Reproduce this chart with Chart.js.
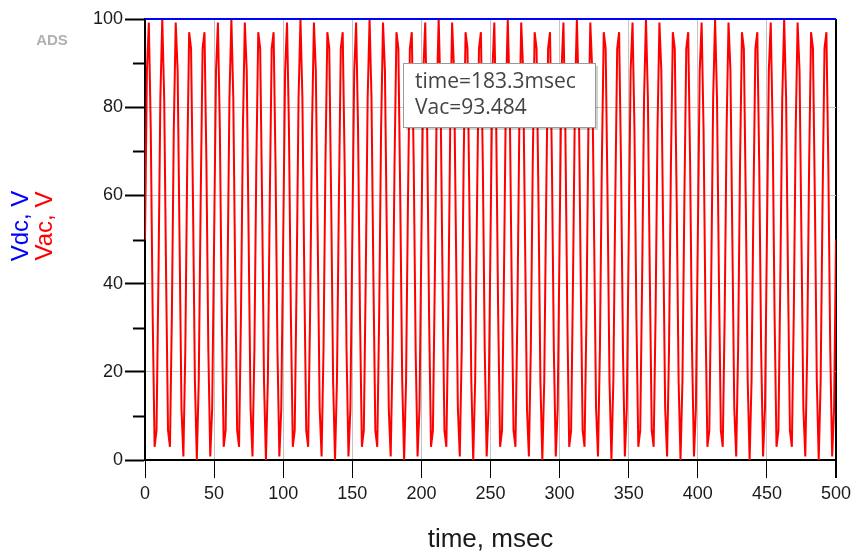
<!DOCTYPE html>
<html>
<head>
<meta charset="utf-8">
<script src="https://cdn.jsdelivr.net/npm/chart.js@4.4.0/dist/chart.umd.min.js"></script>
<style>
  html, body { margin: 0; padding: 0; background: #fff; }
</style>
</head>
<body>
<canvas id="chart" width="857" height="556"></canvas>
<script>
// transient samples, one every tStep msec starting at 0
const tStep = 25 / 18;
const vacValues = [
  50,88.3,99.2,75,32.9,3,6.7,41.3,82.1,100,82.1,41.3,6.7,3,32.9,75,99.2,88.3,50,11.7,0.8,25,67.1,97,93.3,58.7,17.9,0,17.9,58.7,93.3,97,67.1,25,0.8,11.7,
  50,88.3,99.2,75,32.9,3,6.7,41.3,82.1,100,82.1,41.3,6.7,3,32.9,75,99.2,88.3,50,11.7,0.8,25,67.1,97,93.3,58.7,17.9,0,17.9,58.7,93.3,97,67.1,25,0.8,11.7,
  50,88.3,99.2,75,32.9,3,6.7,41.3,82.1,100,82.1,41.3,6.7,3,32.9,75,99.2,88.3,50,11.7,0.8,25,67.1,97,93.3,58.7,17.9,0,17.9,58.7,93.3,97,67.1,25,0.8,11.7,
  50,88.3,99.2,75,32.9,3,6.7,41.3,82.1,100,82.1,41.3,6.7,3,32.9,75,99.2,88.3,50,11.7,0.8,25,67.1,97,93.3,58.7,17.9,0,17.9,58.7,93.3,97,67.1,25,0.8,11.7,
  50,88.3,99.2,75,32.9,3,6.7,41.3,82.1,100,82.1,41.3,6.7,3,32.9,75,99.2,88.3,50,11.7,0.8,25,67.1,97,93.3,58.7,17.9,0,17.9,58.7,93.3,97,67.1,25,0.8,11.7,
  50,88.3,99.2,75,32.9,3,6.7,41.3,82.1,100,82.1,41.3,6.7,3,32.9,75,99.2,88.3,50,11.7,0.8,25,67.1,97,93.3,58.7,17.9,0,17.9,58.7,93.3,97,67.1,25,0.8,11.7,
  50,88.3,99.2,75,32.9,3,6.7,41.3,82.1,100,82.1,41.3,6.7,3,32.9,75,99.2,88.3,50,11.7,0.8,25,67.1,97,93.3,58.7,17.9,0,17.9,58.7,93.3,97,67.1,25,0.8,11.7,
  50,88.3,99.2,75,32.9,3,6.7,41.3,82.1,100,82.1,41.3,6.7,3,32.9,75,99.2,88.3,50,11.7,0.8,25,67.1,97,93.3,58.7,17.9,0,17.9,58.7,93.3,97,67.1,25,0.8,11.7,
  50,88.3,99.2,75,32.9,3,6.7,41.3,82.1,100,82.1,41.3,6.7,3,32.9,75,99.2,88.3,50,11.7,0.8,25,67.1,97,93.3,58.7,17.9,0,17.9,58.7,93.3,97,67.1,25,0.8,11.7,
  50,88.3,99.2,75,32.9,3,6.7,41.3,82.1,100,82.1,41.3,6.7,3,32.9,75,99.2,88.3,50,11.7,0.8,25,67.1,97,93.3,58.7,17.9,0,17.9,58.7,93.3,97,67.1,25,0.8,11.7,
  50
];
const vdcTimes = [0, 500];
const vdcValues = [100, 100];

const xTicks = [0, 50, 100, 150, 200, 250, 300, 350, 400, 450, 500];
const yTicks = [0, 20, 40, 60, 80, 100];
const yMinorTicks = [10, 30, 50, 70, 90];
const markerLines = ['time=183.3msec', 'Vac=93.484'];

const labelFont = { family: 'Arial, "Liberation Sans", sans-serif', size: 18 };

const adsDecor = {
    id: 'adsDecor',
    afterDraw(chart) {
        const ctx = chart.ctx;
        const y = chart.scales.y;
        const area = chart.chartArea;
        ctx.save();

        // minor ticks on the y axis
        ctx.strokeStyle = '#000';
        ctx.lineWidth = 2;
        yMinorTicks.forEach(v => {
            const py = Math.round(y.getPixelForValue(v)) + 0.5;
            ctx.beginPath();
            ctx.moveTo(area.left - 12, py);
            ctx.lineTo(area.left, py);
            ctx.stroke();
        });

        // two-colour y axis title
        ctx.font = '24px Arial, "Liberation Sans", sans-serif';
        ctx.textAlign = 'center';
        ctx.textBaseline = 'middle';
        ctx.translate(0, 226);
        ctx.rotate(-Math.PI / 2);
        ctx.fillStyle = '#0000ff';
        ctx.fillText('Vdc, V', 0, 21);
        ctx.fillStyle = '#ff0000';
        ctx.fillText('Vac, V', 0, 45);
        ctx.setTransform(1, 0, 0, 1, 0, 0);

        ctx.font = 'bold 15px Arial, "Liberation Sans", sans-serif';
        ctx.fillStyle = '#b0b0b0';
        ctx.fillText('ADS', 52, 41);

        // marker readout box
        const bx = 403, by = 63, bw = 192, bh = 64;
        ctx.fillStyle = 'rgba(0,0,0,0.18)';
        ctx.fillRect(bx + 3, by + 3, bw, bh);
        ctx.fillStyle = '#fff';
        ctx.fillRect(bx, by, bw, bh);
        ctx.strokeStyle = '#9a9a9a';
        ctx.lineWidth = 1;
        ctx.strokeRect(bx + 0.5, by + 0.5, bw, bh);
        ctx.font = '21px "Open Sans", Arial, sans-serif';
        ctx.fillStyle = '#444';
        ctx.textAlign = 'left';
        ctx.fillText(markerLines[0], bx + 12, by + 19);
        ctx.fillText(markerLines[1], bx + 12, by + 45);
        ctx.restore();
    }
};

new Chart(document.getElementById('chart'), {
    type: 'line',
    data: {
        datasets: [
            {
                label: 'Vdc',
                data: vdcTimes.map((t, i) => ({ x: t, y: vdcValues[i] })),
                borderColor: '#0000ff',
                borderWidth: 2,
                pointRadius: 0,
                clip: 6,
                order: 0
            },
            {
                label: 'Vac',
                data: vacValues.map((v, i) => ({ x: i * tStep, y: v })),
                borderColor: '#ff0000',
                borderWidth: 2,
                pointRadius: 0,
                tension: 0,
                order: 1
            }
        ]
    },
    options: {
        responsive: false,
        animation: false,
        devicePixelRatio: 1,
        layout: { padding: { top: 19, right: 21, left: 0, bottom: 0 } },
        plugins: { legend: { display: false }, tooltip: { enabled: false } },
        scales: {
            x: {
                type: 'linear', min: 0, max: 500,
                afterBuildTicks: s => { s.ticks = xTicks.map(v => ({ value: v })); },
                afterFit: s => { s.height = 96; },
                border: { color: '#000', width: 2 },
                grid: {
                    color: c => c.tick && c.tick.value === 500 ? '#000' : '#c4c4c4',
                    lineWidth: c => c.tick && c.tick.value === 500 ? 2 : 1,
                    tickColor: '#000',
                    tickLength: 18
                },
                ticks: { font: labelFont, color: '#1a1a1a', padding: 5, maxRotation: 0 },
                title: {
                    display: true, text: 'time, msec', color: '#1a1a1a',
                    font: { family: 'Arial, "Liberation Sans", sans-serif', size: 26 },
                    padding: { top: 0, bottom: 1 }
                }
            },
            y: {
                min: 0, max: 100,
                afterBuildTicks: s => { s.ticks = yTicks.map(v => ({ value: v })); },
                afterFit: s => { s.width = 145; },
                border: { color: '#000', width: 2 },
                grid: {
                    color: '#c4c4c4',
                    tickColor: '#000',
                    tickWidth: 2,
                    tickLength: 20
                },
                ticks: { font: labelFont, color: '#1a1a1a', padding: 2 }
            }
        }
    },
    plugins: [adsDecor]
});
</script>
</body>
</html>
